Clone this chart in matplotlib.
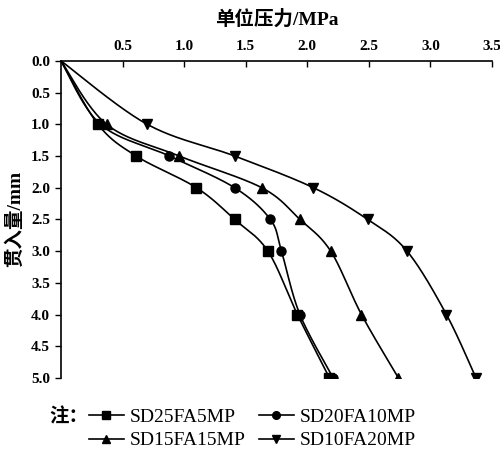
import numpy as np
import matplotlib
matplotlib.use("Agg")
import matplotlib.pyplot as plt
from matplotlib.lines import Line2D

plt.rcParams['font.family'] = ['Liberation Serif', 'Noto Sans CJK SC']

# Data
depth = [0.0, 1.0, 1.5, 2.0, 2.5, 3.0, 4.0, 5.0]
sd25fa5 = [0.0, 0.30, 0.61, 1.10, 1.41, 1.68, 1.92, 2.18]
sd20fa10 = [0.0, 0.32, 0.88, 1.41, 1.70, 1.79, 1.94, 2.21]
sd15fa15 = [0.0, 0.37, 0.96, 1.63, 1.94, 2.19, 2.44, 2.74]
sd10fa20 = [0.0, 0.70, 1.41, 2.05, 2.49, 2.81, 3.13, 3.37]
labels = ['SD25FA5MP', 'SD20FA10MP', 'SD15FA15MP', 'SD10FA20MP']
markers = ['s', 'o', '^', 'v']
series = [sd25fa5, sd20fa10, sd15fa15, sd10fa20]

x_ticks = [0.5, 1.0, 1.5, 2.0, 2.5, 3.0, 3.5]
y_ticks = [0.0, 0.5, 1.0, 1.5, 2.0, 2.5, 3.0, 3.5, 4.0, 4.5, 5.0]

SX, SY = 123.0, 63.4  # approx pixel scale per unit, for smoothing


def smooth(xs, ys, n=40):
    # spreadsheet-style smoothed line: cubic Bezier with 1/6 tangents
    P = np.column_stack([np.asarray(xs) * SX, np.asarray(ys) * SY])
    N = len(P)
    out = []
    for i in range(N - 1):
        pm = P[i - 1] if i > 0 else P[i]
        pp = P[i + 2] if i + 2 < N else P[i + 1]
        c1 = P[i] + (P[i + 1] - pm) / 6.0
        c2 = P[i + 1] - (pp - P[i]) / 6.0
        t = np.linspace(0, 1, n)[:, None]
        B = ((1 - t) ** 3) * P[i] + 3 * ((1 - t) ** 2) * t * c1 \
            + 3 * (1 - t) * t ** 2 * c2 + t ** 3 * P[i + 1]
        out.append(B)
    S = np.vstack(out)
    return S[:, 0] / SX, S[:, 1] / SY


fig = plt.figure(figsize=(5.0, 4.51), dpi=100)
ax = fig.add_axes([0.122, 0.162, 0.862, 0.703])

handles = []
for vals, m, lab in zip(series, markers, labels):
    sx, sy = smooth(vals, depth)
    ax.plot(sx, sy, color='black', lw=1.2)
    ax.plot(vals[1:], depth[1:], linestyle='none', marker=m, color='black', ms=6.5)
    handles.append(Line2D([], [], color='black', lw=1.2, marker=m, ms=5.5, label=lab))

ax.set_xlim(0, 3.5)
ax.set_ylim(5.0, 0.0)
ax.xaxis.set_ticks_position('top')
ax.xaxis.set_label_position('top')
ax.set_xticks(x_ticks)
ax.set_xticklabels([f'{v:.1f}' for v in x_ticks], fontsize=11, fontweight='bold')
ax.set_yticks(y_ticks)
ax.set_yticklabels([f'{v:.1f}' for v in y_ticks], fontsize=11, fontweight='bold')
ax.tick_params(axis='x', direction='in', length=4, width=1, pad=6)
ax.tick_params(axis='y', direction='out', length=4, width=1, pad=4)
for s in ['right', 'bottom']:
    ax.spines[s].set_visible(False)
for s in ['top', 'left']:
    ax.spines[s].set_linewidth(1.2)

ax.set_xlabel('单位压力/MPa', fontsize=14, fontweight='bold', labelpad=11)
ax.set_ylabel('贯入量/mm', fontsize=14, fontweight='bold', labelpad=5)

order = [handles[0], handles[2], handles[1], handles[3]]
fig.legend(handles=order, ncol=2, frameon=False, loc='center left',
           bbox_to_anchor=(0.150, 0.049), handlelength=1.8,
           handletextpad=0.3, columnspacing=0.7, labelspacing=0.3,
           borderpad=0.2, prop={'family': 'Liberation Serif', 'size': 14})
fig.text(0.098, 0.075, '注：', fontsize=14, va='center', ha='left',
         fontweight='bold', family=['Noto Sans CJK SC'])

fig.savefig('out.png', dpi=100)
